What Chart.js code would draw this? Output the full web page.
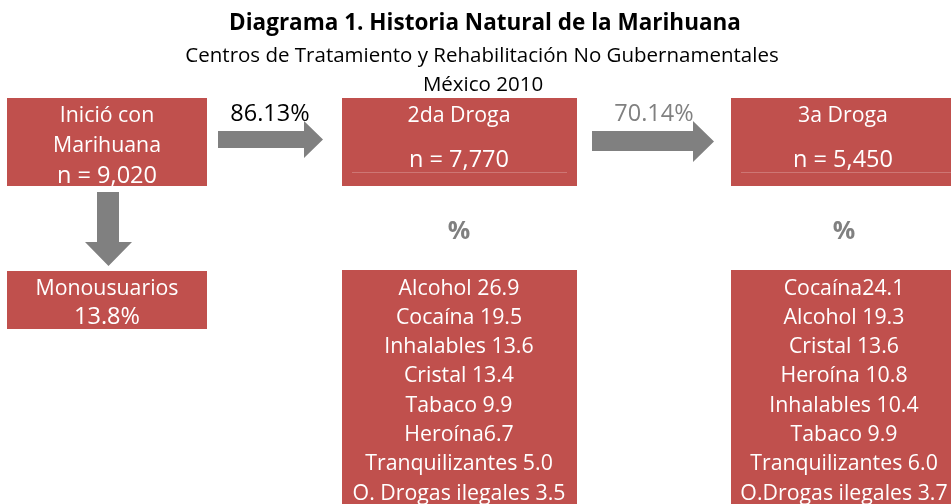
<!DOCTYPE html>
<html>
<head>
<meta charset="utf-8">
<script src="https://cdn.jsdelivr.net/npm/chart.js@4.4.1/dist/chart.umd.min.js"></script>
<style>
html,body{margin:0;padding:0;background:#fff;}
#wrap{width:951px;height:504px;}
</style>
</head>
<body>
<div id="wrap"><canvas id="c" width="951" height="504"></canvas></div>
<script>
// ---- Data ----
const titleText = 'Diagrama 1. Historia Natural de la Marihuana';
const subtitleLines = ['Centros de Tratamiento y Rehabilitación No Gubernamentales', 'México 2010'];
const stageLabels = ['Inició con\nMarihuana', '2da Droga', '3a Droga'];
const stageN = [9020, 7770, 5450];
const transitionPct = [86.13, 70.14];
const monousuariosPct = 13.8;
const drugs2 = ['Alcohol ', 'Cocaína ', 'Inhalables ', 'Cristal ', 'Tabaco ', 'Heroína', 'Tranquilizantes ', 'O. Drogas ilegales '];
const values2 = ['26.9', '19.5', '13.6', '13.4', '9.9', '6.7', '5.0', '3.5'];
const drugs3 = ['Cocaína', 'Alcohol ', 'Cristal ', 'Heroína ', 'Inhalables ', 'Tabaco ', 'Tranquilizantes ', 'O.Drogas ilegales '];
const values3 = ['24.1', '19.3', '13.6', '10.8', '10.4', '9.9', '6.0', '3.7'];

// ---- Layout (diagram units = pixels of the reference) ----
const RED = '#C0504D';
const GREY = '#808080';
const BOXFONT = '"Open Sans", "Noto Sans", sans-serif';

function fmtN(n){ return 'n = ' + n.toLocaleString('en-US'); }

const diagramPlugin = {
  id: 'diagram',
  afterDraw(chart){
    const ctx = chart.ctx;
    const xs = chart.scales.x, ys = chart.scales.y;
    const X = v => xs.getPixelForValue(v);
    const Y = v => ys.getPixelForValue(v);
    const rect = (x0,y0,x1,y1,col) => {
      ctx.fillStyle = col;
      ctx.fillRect(X(x0), Y(y0), X(x1)-X(x0), Y(y1)-Y(y0));
    };
    const text = (t,x,y,font,col) => {
      ctx.font = font; ctx.fillStyle = col;
      ctx.textAlign = 'center'; ctx.textBaseline = 'middle';
      ctx.fillText(t, X(x), Y(y + 1.5));
    };
    const arrowRight = (x0,x1,xh,sy0,sy1,hy0,hy1) => {
      ctx.fillStyle = GREY;
      ctx.beginPath();
      ctx.moveTo(X(x0),Y(sy0)); ctx.lineTo(X(xh),Y(sy0)); ctx.lineTo(X(xh),Y(hy0));
      ctx.lineTo(X(x1),Y((hy0+hy1)/2)); ctx.lineTo(X(xh),Y(hy1)); ctx.lineTo(X(xh),Y(sy1));
      ctx.lineTo(X(x0),Y(sy1)); ctx.closePath(); ctx.fill();
    };
    const arrowDown = (y0,y1,yh,sx0,sx1,hx0,hx1) => {
      ctx.fillStyle = GREY;
      ctx.beginPath();
      ctx.moveTo(X(sx0),Y(y0)); ctx.lineTo(X(sx1),Y(y0)); ctx.lineTo(X(sx1),Y(yh));
      ctx.lineTo(X(hx1),Y(yh)); ctx.lineTo(X((hx0+hx1)/2),Y(y1)); ctx.lineTo(X(hx0),Y(yh));
      ctx.lineTo(X(sx0),Y(yh)); ctx.closePath(); ctx.fill();
    };
    ctx.save();
    // Titles
    text(titleText, 485, 22, 'bold 22.5px ' + BOXFONT, '#000');
    text(subtitleLines[0], 482, 55, '20.5px ' + BOXFONT, '#000');
    text(subtitleLines[1], 483, 84, '20.5px ' + BOXFONT, '#000');

    const bf = '21.3px ' + BOXFONT;
    const pf = '23.5px ' + BOXFONT;
    // Stage boxes
    rect(7, 98, 207, 186, RED);
    const l0 = stageLabels[0].split('\n');
    text(l0[0], 107, 114, bf, '#fff');
    text(l0[1], 107, 144, bf, '#fff');
    text(fmtN(stageN[0]), 107, 175, pf, '#fff');

    rect(342, 98, 577, 186, RED);
    text(stageLabels[1], 459, 114, bf, '#fff');
    text(fmtN(stageN[1]), 459, 159, pf, '#fff');
    rect(352, 172, 567, 173, 'rgba(255,255,255,0.22)');

    rect(731, 98, 951, 186, RED);
    text(stageLabels[2], 843, 114, bf, '#fff');
    text(fmtN(stageN[2]), 843, 159, pf, '#fff');
    rect(741, 172, 951, 173, 'rgba(255,255,255,0.22)');

    // Arrows
    arrowRight(218, 323, 304, 131, 148, 121, 158);
    text(transitionPct[0].toFixed(2) + '%', 270, 113, pf, '#000');
    arrowRight(592, 714, 693, 131, 151, 121, 162);
    text(transitionPct[1].toFixed(2) + '%', 654, 113, pf, GREY);
    arrowDown(192, 266, 242, 97, 119, 85, 132);

    // % labels
    text('%', 459, 230, 'bold 25px ' + BOXFONT, GREY);
    text('%', 844, 230, 'bold 25px ' + BOXFONT, GREY);

    // Monousuarios
    rect(7, 271, 207, 329, RED);
    text('Monousuarios', 107, 287, bf, '#fff');
    text(monousuariosPct.toFixed(1) + '%', 107, 316, pf, '#fff');

    // Lists
    const rowH = 29.3, row0 = 287;
    rect(342, 270, 577, 504, RED);
    drugs2.forEach((d,i) => text(d + values2[i], 459, row0 + i*rowH, bf, '#fff'));
    rect(731, 270, 951, 504, RED);
    drugs3.forEach((d,i) => text(d + values3[i], 844, row0 + i*rowH, bf, '#fff'));
    ctx.restore();
  }
};

new Chart(document.getElementById('c'), {
  type: 'scatter',
  data: { datasets: [] },
  options: {
    responsive: false,
    animation: false,
    layout: { padding: 0 },
    plugins: { legend: { display: false }, title: { display: false }, tooltip: { enabled: false } },
    scales: {
      x: { type: 'linear', min: 0, max: 951, display: false },
      y: { type: 'linear', min: 0, max: 504, reverse: true, display: false }
    }
  },
  plugins: [diagramPlugin]
});
</script>
</body>
</html>
